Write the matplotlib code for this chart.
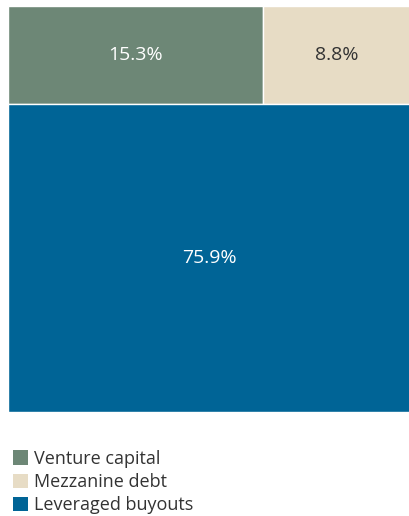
import matplotlib.pyplot as plt
from matplotlib.patches import Rectangle, Patch

plt.rcParams['font.family'] = ['Open Sans', 'DejaVu Sans']

labels = ['Venture capital', 'Mezzanine debt', 'Leveraged buyouts']
shares = [15.3, 8.8, 75.9]
colors = ['#6d8776', '#e7dcc5', '#006496']
text_colors = ['white', '#333333', 'white']

fig = plt.figure(figsize=(4.10, 5.16), dpi=100)
ax = fig.add_axes([8 / 410, (516 - 412) / 516, 402 / 410, 406 / 516])
ax.set_xlim(0, 1)
ax.set_ylim(0, 1)
ax.axis('off')

total = sum(shares)
bottom_h = shares[2] / total
top_h = 1 - bottom_h
top_total = shares[0] + shares[1]

# top row: venture capital + mezzanine side by side
x = 0
for i in range(2):
    w = shares[i] / top_total
    ax.add_patch(Rectangle((x, bottom_h), w, top_h, facecolor=colors[i],
                           edgecolor='white', linewidth=1))
    ax.text(x + w / 2, bottom_h + top_h / 2, f'{shares[i]}%', ha='center',
            va='center', color=text_colors[i], fontsize=14)
    x += w

# bottom row: leveraged buyouts
ax.add_patch(Rectangle((0, 0), 1, bottom_h, facecolor=colors[2],
                       edgecolor='white', linewidth=1))
ax.text(0.5, bottom_h / 2, f'{shares[2]}%', ha='center', va='center',
        color=text_colors[2], fontsize=14)

handles = [Patch(facecolor=c, edgecolor='none') for c in colors]
fig.legend(handles, labels, loc='upper left', bbox_to_anchor=(0.0, 1 - 437 / 516),
           frameon=False, fontsize=13, handlelength=0.85, handleheight=0.85,
           handletextpad=0.35, labelspacing=0.3, labelcolor='#333333',
           borderaxespad=0.3)

fig.savefig('out.png', dpi=100)
